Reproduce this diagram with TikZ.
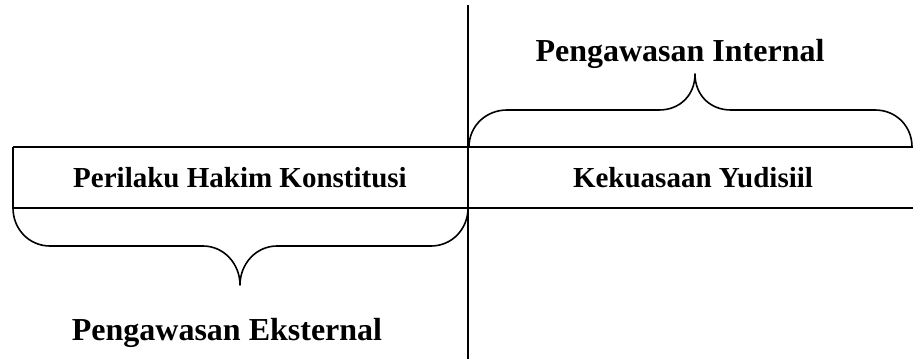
\documentclass[tikz,border=0pt]{standalone}
\usepackage{fontspec}
\setmainfont{Liberation Serif}
\begin{document}
\begin{tikzpicture}[x=1pt,y=-1pt,
  rule/.style={line width=1.3pt,black},
  bracepath/.style={line width=1.6pt,black,line join=round},
  biglabel/.style={inner sep=0pt,anchor=base,font=\bfseries\fontsize{32}{38}\selectfont},
  celllabel/.style={inner sep=0pt,anchor=base,font=\bfseries\fontsize{29}{35}\selectfont}]
\useasboundingbox (0,0) rectangle (913,359);

% table frame
\coordinate (tl) at (13,147);
\coordinate (bl) at (13,208);
\coordinate (tr) at (913,147);
\coordinate (br) at (913,208);
\coordinate (axtop) at (468,5);
\coordinate (axbot) at (468,359);
\draw[rule] (tl) -- (tr);
\draw[rule] (bl) -- (br);
\draw[rule] (tl) -- (bl);
\draw[rule] (axtop) -- (axbot);

% cell texts
\node[celllabel] (perilaku) at (240,187) {Perilaku Hakim Konstitusi};
\node[celllabel] (kekuasaan) at (693,187) {Kekuasaan Yudisiil};

% lower brace
\draw[bracepath] (13,208) .. controls (13,229) and (29,246) .. (50,246)
  -- (203,246) .. controls (224,246) and (240,264) .. (240,285)
  .. controls (240,264) and (256,246) .. (277,246)
  -- (431,246) .. controls (452,246) and (468,229) .. (468,208);

% upper brace
\draw[bracepath] (469,147) .. controls (469,126) and (486,110) .. (507,110)
  -- (659,110) .. controls (680,110) and (695,95) .. (695,74)
  .. controls (695,95) and (710,110) .. (731,110)
  -- (875,110) .. controls (896,110) and (912,126) .. (912,147);

% brace labels
\node[biglabel] (internal) at (680,61) {Pengawasan Internal};
\node[biglabel] (eksternal) at (227,340) {Pengawasan Eksternal};
\end{tikzpicture}
\end{document}
